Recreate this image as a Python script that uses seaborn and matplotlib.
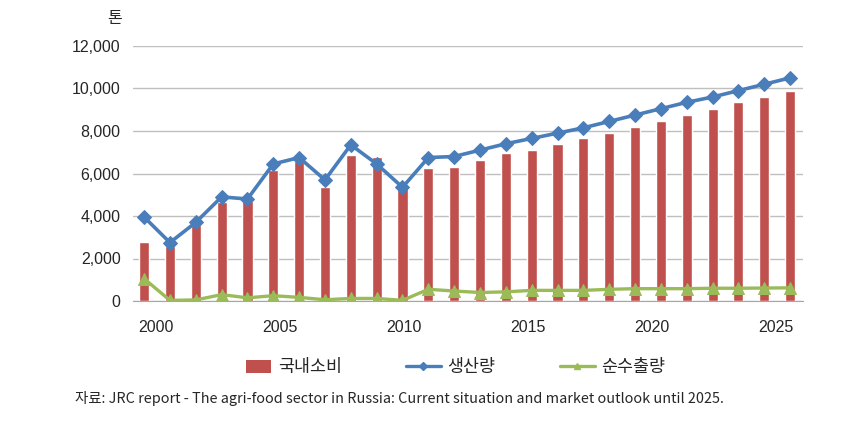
import numpy as np
import pandas as pd
import seaborn as sns
import matplotlib.pyplot as plt
from matplotlib.patches import Patch, Rectangle
from matplotlib.lines import Line2D
from matplotlib.legend_handler import HandlerPatch

# values (unit: 톤)
years = list(range(2000, 2026))
consumption = [2800, 2600, 3600, 4650, 4700, 6150, 6600, 5350, 6850, 6800,
               5300, 6250, 6300, 6650, 6950, 7100, 7400, 7650, 7900, 8200,
               8450, 8750, 9050, 9350, 9600, 9900]
production = [3950, 2750, 3700, 4900, 4800, 6450, 6750, 5700, 7350, 6450,
              5350, 6750, 6800, 7100, 7400, 7650, 7900, 8150, 8450, 8750,
              9050, 9350, 9600, 9900, 10200, 10500]
net_export = [1050, 30, 50, 300, 150, 250, 170, 60, 120, 120,
              30, 550, 470, 400, 430, 500, 500, 500, 550, 580,
              580, 580, 600, 600, 610, 620]
year_labels = ["2000", "2005", "2010", "2015", "2020", "2025"]
series_names = ["국내소비", "생산량", "순수출량"]
source_text = "자료: JRC report - The agri-food sector in Russia: Current situation and market outlook until 2025."

df = pd.DataFrame({"year": years, "cons": consumption,
                   "prod": production, "exp": net_export})

sns.set_style("white")
plt.rcParams['font.family'] = ['Liberation Sans', 'Noto Sans CJK KR', 'DejaVu Sans']

red = "#C0504D"
blue = "#4A7EBB"
green = "#9BBB59"

fig = plt.figure(figsize=(8.41, 4.38), dpi=100)
ax = fig.add_axes([133/841, 1 - 301/438, 670/841, 255/438])

sns.barplot(data=df, x="year", y="cons", native_scale=True, color=red,
            width=0.39, saturation=1, ax=ax, zorder=2)
sns.lineplot(data=df, x="year", y="prod", color=blue, lw=2.6, marker="D",
             markersize=7.5, markeredgecolor=blue, ax=ax, zorder=3)
sns.lineplot(data=df, x="year", y="exp", color=green, lw=2.4, marker="^",
             markersize=8, markeredgecolor=green, ax=ax, zorder=3)

ax.set_xlim(1999.57, 2025.5)
ax.set_ylim(0, 12000)
ax.set_yticks(np.arange(0, 12001, 2000))
ax.set_yticklabels([f"{v:,}" for v in range(0, 12001, 2000)], fontsize=11.5)
ax.yaxis.grid(True, color="#BFBFBF", lw=1)
ax.set_axisbelow(True)
ax.tick_params(axis="y", length=0, pad=9)

# Excel-style category labels sit slightly off the bars
ax.set_xticks(np.linspace(2000.46, 2024.46, 6))
ax.set_xticklabels(year_labels, fontsize=11.5)
ax.set_xticks(np.arange(2000.5, 2025, 1), minor=True)
ax.tick_params(axis="x", which="major", length=0, pad=14)
ax.tick_params(axis="x", which="minor", length=4, color="#A6A6A6", width=1, direction="out")
ax.set_xlabel("")
ax.set_ylabel("")

for s in ["top", "right", "left"]:
    ax.spines[s].set_visible(False)
ax.spines["bottom"].set_color("#A6A6A6")
ax.spines["bottom"].set_zorder(1)

fig.text(115/841, 1 - 19/438, "톤", fontsize=11.5, ha="center", va="center")


def small_patch(legend, orig_handle, xdescent, ydescent, width, height, fontsize):
    # legend swatch narrower than the line handles
    w = width * 0.72
    return Rectangle((xdescent + width - w, ydescent - height * 0.1), w, height * 1.1)


handles = [Patch(facecolor=red, edgecolor="none"),
           Line2D([], [], color=blue, lw=2.4, marker="D", markersize=4),
           Line2D([], [], color=green, lw=2.4, marker="^", markersize=5)]
fig.legend(handles, series_names, loc="center", bbox_to_anchor=(0.536, 1 - 367/438),
           ncol=3, frameon=False, fontsize=12.5, handlelength=2.0,
           handletextpad=0.4, columnspacing=3.7,
           handler_map={Patch: HandlerPatch(patch_func=small_patch)})

fig.text(75/841, 1 - 398/438, source_text, fontsize=10.4, ha="left", va="center",
         family=['Noto Sans CJK KR', 'DejaVu Sans'])

fig.savefig("out.png", dpi=100)
